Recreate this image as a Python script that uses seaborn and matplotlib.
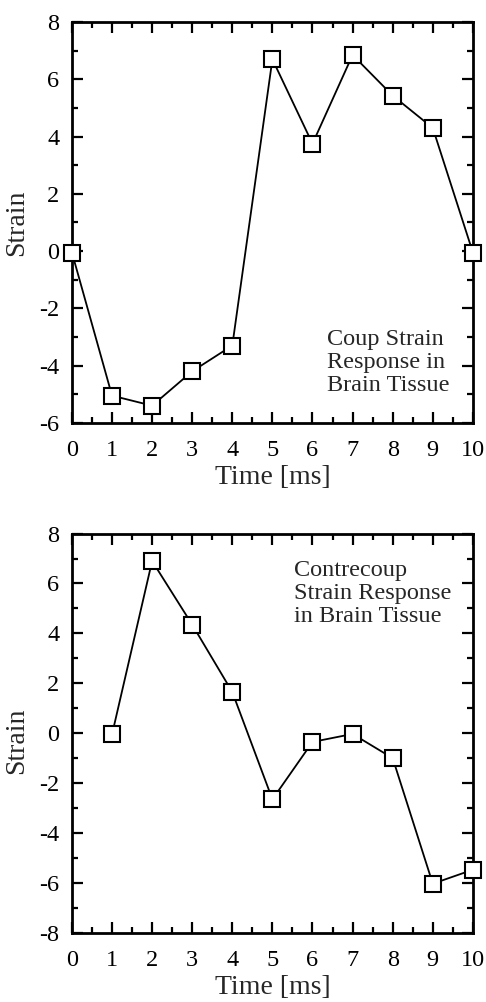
import matplotlib
matplotlib.use("Agg")
import matplotlib.pyplot as plt
import seaborn as sns
import pandas as pd
from matplotlib.ticker import MultipleLocator

time_coup = [0, 1, 2, 3, 4, 5, 6, 7, 8, 9, 10]
strain_coup = [-0.05, -5.05, -5.4, -4.2, -3.3, 6.7, 3.75, 6.85, 5.43, 4.3, -0.05]

time_contre = [1, 2, 3, 4, 5, 6, 7, 8, 9, 10]
strain_contre = [-0.05, 6.9, 4.35, 1.65, -2.65, -0.35, -0.03, -1.0, -6.03, -5.47]

xticks = list(range(0, 11))
yticks_top = [-6, -4, -2, 0, 2, 4, 6, 8]
yticks_bot = [-8, -6, -4, -2, 0, 2, 4, 6, 8]

sns.set_style("ticks")
plt.rcParams['font.family'] = ['Liberation Serif', 'DejaVu Serif']
plt.rcParams['axes.unicode_minus'] = False

fig = plt.figure(figsize=(4.86, 10.02), dpi=100)
ax1 = fig.add_axes([0.148, 0.578, 0.825, 0.400])
ax2 = fig.add_axes([0.148, 0.069, 0.825, 0.3985])

def style(ax, yticks, ylim):
    ax.set_xlim(0, 10)
    ax.set_ylim(*ylim)
    ax.set_xticks(xticks)
    ax.set_yticks(yticks)
    ax.xaxis.set_minor_locator(MultipleLocator(0.5))
    ax.yaxis.set_minor_locator(MultipleLocator(1))
    ax.tick_params(which='both', direction='in', top=True, right=True,
                   width=1.6, colors='black', labelsize=17.5)
    ax.tick_params(axis='x', pad=12)
    ax.tick_params(axis='y', pad=9)
    ax.tick_params(which='major', length=8)
    ax.tick_params(which='minor', length=4)
    for s in ax.spines.values():
        s.set_linewidth(2)
        s.set_color('black')
    ax.set_xlabel("Time [ms]", fontsize=20, labelpad=3)
    ax.set_ylabel("Strain", fontsize=20, labelpad=5)

df1 = pd.DataFrame({"Time": time_coup, "Strain": strain_coup})
df2 = pd.DataFrame({"Time": time_contre, "Strain": strain_contre})

for ax, df in ((ax1, df1), (ax2, df2)):
    sns.lineplot(data=df, x="Time", y="Strain", ax=ax, color='black', linewidth=1.3,
                 marker='s', markersize=11, markerfacecolor='white',
                 markeredgecolor='black', markeredgewidth=1.5, clip_on=False, zorder=5)

style(ax1, yticks_top, (-6, 8))
style(ax2, yticks_bot, (-8, 8))
ax1.yaxis.set_label_coords(-0.108, 0.5)
ax2.yaxis.set_label_coords(-0.108, 0.48)

ax1.text(0.635, 0.235, "Coup Strain\nResponse in\nBrain Tissue", transform=ax1.transAxes,
         fontsize=17.5, linespacing=1.13, va='top', ha='left')
ax2.text(0.555, 0.933, "Contrecoup\nStrain Response\nin Brain Tissue", transform=ax2.transAxes,
         fontsize=17.5, linespacing=1.13, va='top', ha='left')

fig.savefig("out.png", dpi=100)
